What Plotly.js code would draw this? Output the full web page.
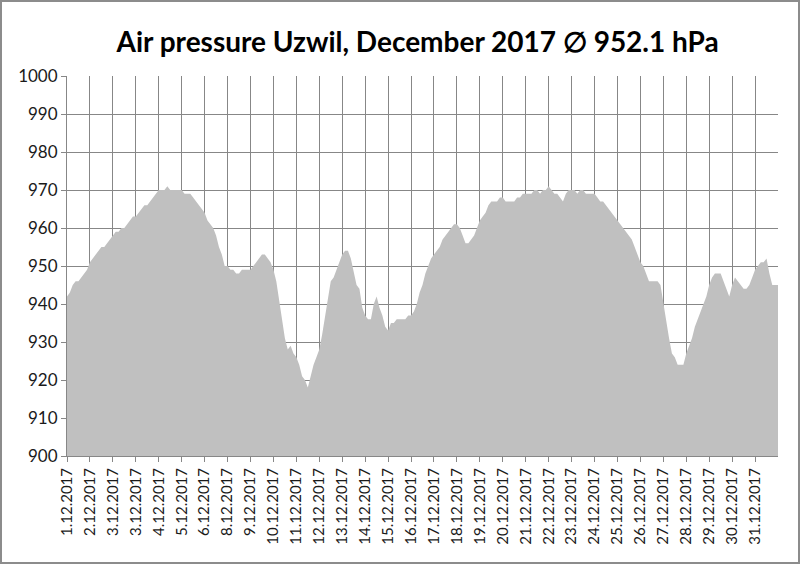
<!DOCTYPE html>
<html>
<head>
<meta charset="utf-8">
<script src="https://cdn.plot.ly/plotly-3.0.1.min.js"></script>
<style>
    body { margin: 0; background: #fff; }
    #chart { width: 800px; height: 564px; }
    #frame { position: absolute; left: 0; top: 0; width: 800px; height: 564px; box-sizing: border-box; border: 2px solid #8c8c8c; pointer-events: none; }
</style>
</head>
<body>
<div id="chart"></div>
<div id="frame"></div>
<script>
// tick labels as they appear on the category axis (one every 24 readings)
const day_labels = [
    "1.12.2017", "2.12.2017", "3.12.2017", "3.12.2017", "4.12.2017", "5.12.2017",
    "6.12.2017", "8.12.2017", "9.12.2017", "10.12.2017", "11.12.2017", "12.12.2017",
    "13.12.2017", "14.12.2017", "15.12.2017", "16.12.2017", "17.12.2017", "18.12.2017",
    "19.12.2017", "20.12.2017", "21.12.2017", "22.12.2017", "23.12.2017", "24.12.2017",
    "25.12.2017", "26.12.2017", "27.12.2017", "28.12.2017", "29.12.2017", "30.12.2017",
    "31.12.2017"
]

// air pressure in hPa, read every 3 hours (8 values per day)
const pressure_week1 = [
    942, 943, 945, 946, 946, 947, 948, 949,
    951, 952, 953, 954, 955, 955, 956, 957,
    958, 959, 959, 960, 960, 961, 962, 963,
    963, 964, 965, 966, 966, 967, 968, 969,
    970, 970, 970, 971, 970, 970, 970, 970,
    970, 969, 969, 969, 968, 967, 966, 965,
    964, 962, 961, 960, 958, 955, 953, 950,
]
const pressure_week2 = [
    950, 949, 949, 948, 948, 949, 949, 949,
    949, 950, 951, 952, 953, 953, 952, 951,
    949, 946, 941, 936, 931, 928, 929, 927,
    926, 924, 921, 920, 918, 921, 924, 926,
    928, 932, 937, 942, 946, 947, 949, 951,
    953, 954, 954, 952, 948, 945, 944, 939,
    937, 936, 936, 940, 942, 939, 937, 934,
]
const pressure_week3 = [
    933, 935, 935, 936, 936, 936, 936, 937,
    937, 938, 940, 943, 945, 948, 950, 952,
    953, 954, 955, 957, 958, 959, 960, 961,
    961, 960, 958, 956, 956, 957, 958, 960,
    962, 963, 964, 966, 967, 967, 967, 968,
    968, 967, 967, 967, 967, 968, 968, 969,
    969, 969, 969, 970, 970, 969, 970, 970,
]
const pressure_week4 = [
    971, 970, 969, 969, 968, 967, 969, 970,
    970, 970, 969, 970, 970, 969, 969, 969,
    969, 968, 967, 967, 966, 965, 964, 963,
    962, 961, 960, 959, 958, 957, 955, 953,
    951, 950, 948, 946, 946, 946, 946, 945,
    940, 935, 931, 927, 926, 924, 924, 924,
    927, 929, 931, 934, 936, 938, 940, 942,
]
// last block ends with the reading at midnight 31.12 / 1.1
const pressure_week5 = [
    945, 947, 948, 948, 948, 946, 944, 942,
    945, 947, 946, 945, 944, 944, 945, 947,
    949, 950, 951, 951, 952, 948, 945, 945,
    945,
]

const hours_per_reading = 3
const hours_per_label = 24

const pressure = [].concat(pressure_week1, pressure_week2, pressure_week3, pressure_week4, pressure_week5)
const hours = pressure.map((v, i) => i * hours_per_reading)
const tick_pos = day_labels.map((l, i) => i * hours_per_label)

const font_family = "Lato, 'Open Sans', sans-serif"

const data = [{
    x: hours,
    y: pressure,
    type: 'scatter',
    mode: 'lines',
    fill: 'tozeroy',
    fillcolor: '#c0c0c0',
    line: { width: 0, color: '#c0c0c0' },
    hoverinfo: 'skip',
}]

const layout = {
    width: 800,
    height: 564,
    margin: { l: 67, r: 22, t: 76, b: 108 },
    paper_bgcolor: '#ffffff',
    plot_bgcolor: '#ffffff',
    showlegend: false,
    font: { family: font_family, color: '#1a1a1a' },
    title: {
        text: "<b>Air pressure Uzwil, December 2017 \u2205 952.1 hPa</b>",
        font: { family: font_family, size: 28, color: '#000' },
        x: 0.522,
        xanchor: 'center',
        y: 0.925,
        yanchor: 'middle',
    },
    xaxis: {
        range: [0, 744],
        tickmode: 'array',
        tickvals: tick_pos,
        ticktext: day_labels,
        tickangle: -90,
        tickfont: { size: 15, family: font_family, color: '#1a1a1a' },
        ticks: 'outside',
        ticklen: 5,
        tickcolor: '#878787',
        showgrid: true,
        gridcolor: '#878787',
        gridwidth: 1,
        showline: true,
        linecolor: '#878787',
        linewidth: 1,
        zeroline: false,
        fixedrange: true,
    },
    yaxis: {
        range: [900, 1000],
        dtick: 10,
        tickfont: { size: 17, family: font_family, color: '#1a1a1a' },
        ticks: 'outside',
        ticklen: 5,
        tickcolor: '#878787',
        showgrid: true,
        gridcolor: '#878787',
        gridwidth: 1,
        showline: true,
        linecolor: '#878787',
        linewidth: 1,
        zeroline: false,
        fixedrange: true,
    },
}

Plotly.newPlot("chart", data, layout, { displayModeBar: false, staticPlot: true })
</script>
</body>
</html>
